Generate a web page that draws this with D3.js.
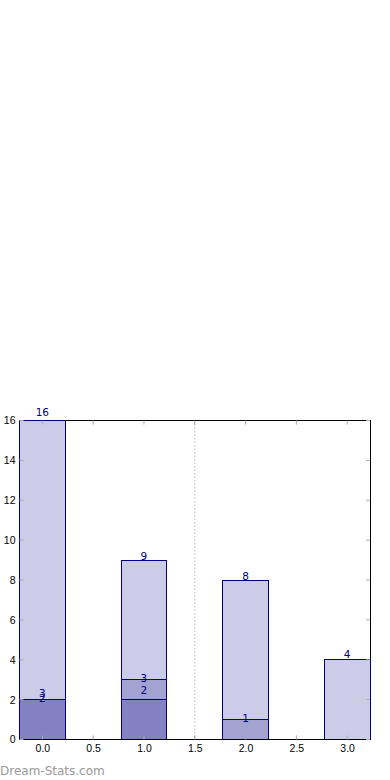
<!DOCTYPE html>
<html>
<head>
<meta charset="utf-8">
<script src="https://cdn.jsdelivr.net/npm/d3@7"></script>
<style>
  body { margin: 0; background: #fff; }
  svg { display: block; font-family: "DejaVu Sans", sans-serif; }
  .tick text { font-size: 10.5px; fill: #000; }
</style>
</head>
<body>
<script>
// data
const positions = [0, 1, 2, 3];
const totalValues = [16, 9, 8, 4];
const middleValues = [2, 3, 1];
const innerValues = [2, 2];
// label texts and where they sit (data units)
const totalLabels = ['16', '9', '8', '4'];
const totalLabelAt = [16.4, 9.2, 8.2, 4.25];
const middleLabels = ['3', '3', '1'];
const middleLabelAt = [2.3, 3.05, 1.05];
const innerLabels = ['2', '2'];
const innerLabelAt = [2.05, 2.45];
const xTicks = [0, 0.5, 1, 1.5, 2, 2.5, 3];
const yTicks = [0, 2, 4, 6, 8, 10, 12, 14, 16];
const dividerAt = 1.5;

const width = 390;
const height = 780;
const margin = { top: 420.5, right: 20, bottom: 40.5, left: 19.5 };
const barWidth = 0.45;
const navy = '#000080';

const svg = d3.select('body').append('svg')
  .attr('width', width)
  .attr('height', height);

const x = d3.scaleLinear()
  .domain([-0.225, 3.225])
  .range([margin.left, width - margin.right]);
const y = d3.scaleLinear()
  .domain([0, 16])
  .range([height - margin.bottom, margin.top]);

// dotted divider
svg.append('line')
  .attr('x1', x(dividerAt)).attr('x2', x(dividerAt))
  .attr('y1', y(16)).attr('y2', y(0))
  .attr('stroke', '#bbb')
  .attr('stroke-dasharray', '1.5,2');

// three translucent layers overlap at each position
const layers = [
  { values: totalValues, labels: totalLabels, at: totalLabelAt },
  { values: middleValues, labels: middleLabels, at: middleLabelAt },
  { values: innerValues, labels: innerLabels, at: innerLabelAt },
];

// frame
svg.append('rect')
  .attr('x', x.range()[0])
  .attr('y', y.range()[1])
  .attr('width', x.range()[1] - x.range()[0])
  .attr('height', y.range()[0] - y.range()[1])
  .attr('fill', 'none')
  .attr('stroke', '#000')
  .attr('shape-rendering', 'crispEdges');

layers.forEach((layer) => {
  svg.append('g').selectAll('rect')
    .data(layer.values)
    .join('rect')
    .attr('x', (d, i) => x(positions[i] - barWidth / 2))
    .attr('width', (d, i) => x(positions[i] + barWidth / 2) - x(positions[i] - barWidth / 2))
    .attr('y', (d) => y(d))
    .attr('height', (d) => y(0) - y(d))
    .attr('fill', navy)
    .attr('fill-opacity', 0.2)
    .attr('stroke', navy)
    .attr('shape-rendering', 'crispEdges');
});

// bottom axis line stays black
svg.append('line')
  .attr('x1', x.range()[0]).attr('x2', x.range()[1])
  .attr('y1', y(0)).attr('y2', y(0))
  .attr('stroke', '#000')
  .attr('shape-rendering', 'crispEdges');

// value labels
layers.forEach((layer) => {
  svg.append('g').selectAll('text')
    .data(layer.labels)
    .join('text')
    .attr('x', (d, i) => x(positions[i]))
    .attr('y', (d, i) => y(layer.at[i]))
    .attr('dy', '0.35em')
    .attr('text-anchor', 'middle')
    .attr('font-size', 10.5)
    .attr('fill', navy)
    .text((d) => d);
});

// axes: labels outside, short grey ticks inside
const gx = svg.append('g')
  .attr('transform', `translate(0, ${y(0)})`)
  .call(d3.axisBottom(x).tickValues(xTicks).tickFormat(d3.format('.1f')).tickSize(0).tickPadding(5));
gx.select('.domain').remove();

const gy = svg.append('g')
  .attr('transform', `translate(${x.range()[0]}, 0)`)
  .call(d3.axisLeft(y).tickValues(yTicks).tickSize(0).tickPadding(4));
gy.select('.domain').remove();

const tickGrey = '#aaa';
const tickLen = 4;
svg.append('g').selectAll('line')
  .data(xTicks)
  .join('line')
  .attr('x1', (d) => x(d)).attr('x2', (d) => x(d))
  .attr('y1', y(0)).attr('y2', y(0) - tickLen)
  .attr('stroke', tickGrey);
svg.append('g').selectAll('line')
  .data(xTicks)
  .join('line')
  .attr('x1', (d) => x(d)).attr('x2', (d) => x(d))
  .attr('y1', y(16)).attr('y2', y(16) + tickLen)
  .attr('stroke', tickGrey);
svg.append('g').selectAll('line')
  .data(yTicks)
  .join('line')
  .attr('x1', x.range()[0]).attr('x2', x.range()[0] + tickLen)
  .attr('y1', (d) => y(d)).attr('y2', (d) => y(d))
  .attr('stroke', tickGrey);
svg.append('g').selectAll('line')
  .data(yTicks)
  .join('line')
  .attr('x1', x.range()[1]).attr('x2', x.range()[1] - tickLen)
  .attr('y1', (d) => y(d)).attr('y2', (d) => y(d))
  .attr('stroke', tickGrey);

// watermark
svg.append('text')
  .attr('x', 0)
  .attr('y', 775)
  .attr('font-size', 12)
  .attr('fill', '#999')
  .text('Dream-Stats.com');
</script>
</body>
</html>
